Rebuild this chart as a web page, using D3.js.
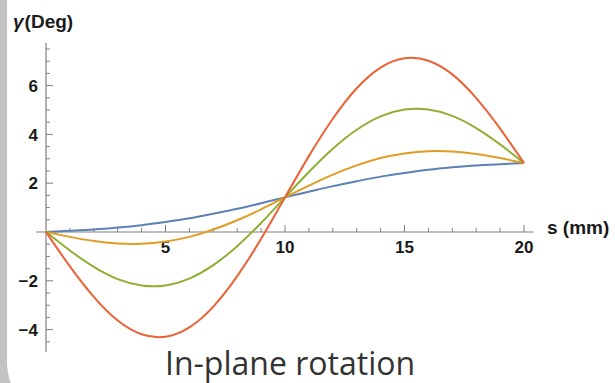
<!DOCTYPE html>
<html lang="en">
<head>
<meta charset="UTF-8">
<title>In-plane rotation</title>
<script src="https://d3js.org/d3.v7.min.js"></script>
<style>
    body {margin: 0; background: #fff}
    .lbl {font-family: 'Liberation Sans', Arial, sans-serif; font-size: 17px; font-weight: bold; fill: #1a1a1a}
    .axlbl {font-family: 'Liberation Sans', Arial, sans-serif; font-size: 19px; font-weight: bold; fill: #1a1a1a}
    .title {font-family: 'Open Sans', sans-serif; font-size: 32px; fill: #333}
</style>
</head>
<body>
<script>
    const width  = 615;
    const height = 383;

    // s (mm), sampled every 1 mm
    const s = d3.range(0, 21);
    // gamma (deg)
    const blue   = [0, 0.05, 0.10, 0.18, 0.28, 0.41, 0.56, 0.75, 0.95, 1.18, 1.42, 1.65, 1.88, 2.08, 2.27, 2.42, 2.55, 2.65, 2.73, 2.78, 2.83];
    const orange = [0, -0.20, -0.37, -0.47, -0.48, -0.39, -0.20, 0.10, 0.48, 0.93, 1.42, 1.90, 2.35, 2.73, 3.03, 3.22, 3.31, 3.30, 3.20, 3.03, 2.83];
    const green  = [0, -0.76, -1.43, -1.93, -2.19, -2.19, -1.91, -1.36, -0.58, 0.37, 1.42, 2.46, 3.41, 4.19, 4.74, 5.02, 5.02, 4.76, 4.26, 3.59, 2.83];
    const red    = [0, -1.41, -2.66, -3.63, -4.19, -4.29, -3.91, -3.06, -1.81, -0.28, 1.42, 3.11, 4.64, 5.89, 6.74, 7.12, 7.02, 6.46, 5.49, 4.24, 2.83];
    const series = [blue, orange, green, red];
    const colors = ["#5e81b5", "#e19c24", "#8fb032", "#eb6235"];

    const xTicks = [5, 10, 15, 20];
    const yTicks = [-4, -2, 2, 4, 6];

    const svg = d3.select("body").append("svg")
        .attr("width", width).attr("height", height);

    // grey slide frame on the left
    svg.append("rect").attr("width", width).attr("height", height).attr("fill", "#c3c3c3");
    svg.append("rect").attr("x", 7).attr("y", -80).attr("width", 700).attr("height", 502)
        .attr("rx", 60).attr("fill", "#fff");

    const x = d3.scaleLinear().domain([0, 20]).range([46, 524]);
    const y = d3.scaleLinear().domain([-4, 6]).range([329.6, 85.6]);

    const axisColor = "#808080";

    // x axis
    const gx = svg.append("g").attr("transform", `translate(0,${y(0)})`);
    gx.append("line").attr("x1", x(-0.42)).attr("x2", x(20.42)).attr("stroke", axisColor).attr("stroke-width", 1.2);
    gx.selectAll("line.minor").data(d3.range(1, 21)).enter().append("line")
        .attr("class", "minor")
        .attr("x1", d => x(d)).attr("x2", d => x(d))
        .attr("y1", 0).attr("y2", d => d % 5 == 0 ? -7 : -4)
        .attr("stroke", axisColor);
    gx.selectAll("text").data(xTicks).enter().append("text")
        .attr("class", "lbl")
        .attr("x", d => x(d)).attr("y", 21)
        .attr("text-anchor", "middle")
        .text(d => d);

    // y axis
    const gy = svg.append("g").attr("transform", `translate(${x(0)},0)`);
    gy.append("line").attr("y1", y(7.75)).attr("y2", y(-4.92)).attr("stroke", axisColor).attr("stroke-width", 1.2);
    gy.selectAll("line.minor").data(d3.range(-9, 16).map(d => d / 2).filter(d => d != 0)).enter().append("line")
        .attr("class", "minor")
        .attr("y1", d => y(d)).attr("y2", d => y(d))
        .attr("x1", 0).attr("x2", d => d % 2 == 0 ? 7 : 4)
        .attr("stroke", axisColor);
    gy.selectAll("text").data(yTicks).enter().append("text")
        .attr("class", "lbl")
        .attr("x", -8).attr("y", d => y(d))
        .attr("dy", "0.36em")
        .attr("text-anchor", "end")
        .text(d => d < 0 ? "\u2212" + Math.abs(d) : d);

    // curves
    const line = d3.line()
        .x((d, i) => x(s[i]))
        .y(d => y(d))
        .curve(d3.curveNatural);

    svg.selectAll("path.curve").data(series).enter().append("path")
        .attr("class", "curve")
        .attr("d", d => line(d))
        .attr("fill", "none")
        .attr("stroke", (d, i) => colors[i])
        .attr("stroke-width", 2);

    // axis labels
    const yl = svg.append("text").attr("class", "axlbl").attr("x", 13).attr("y", 28);
    yl.append("tspan").attr("font-style", "italic").text("\u03b3");
    yl.append("tspan").attr("dx", 1).text("(Deg)");

    svg.append("text").attr("class", "axlbl")
        .attr("x", 547).attr("y", 232).attr("dy", "0.1em")
        .text("s (mm)");

    svg.append("text").attr("class", "title")
        .attr("x", 165).attr("y", 375)
        .text("In-plane rotation");
</script>
</body>
</html>
